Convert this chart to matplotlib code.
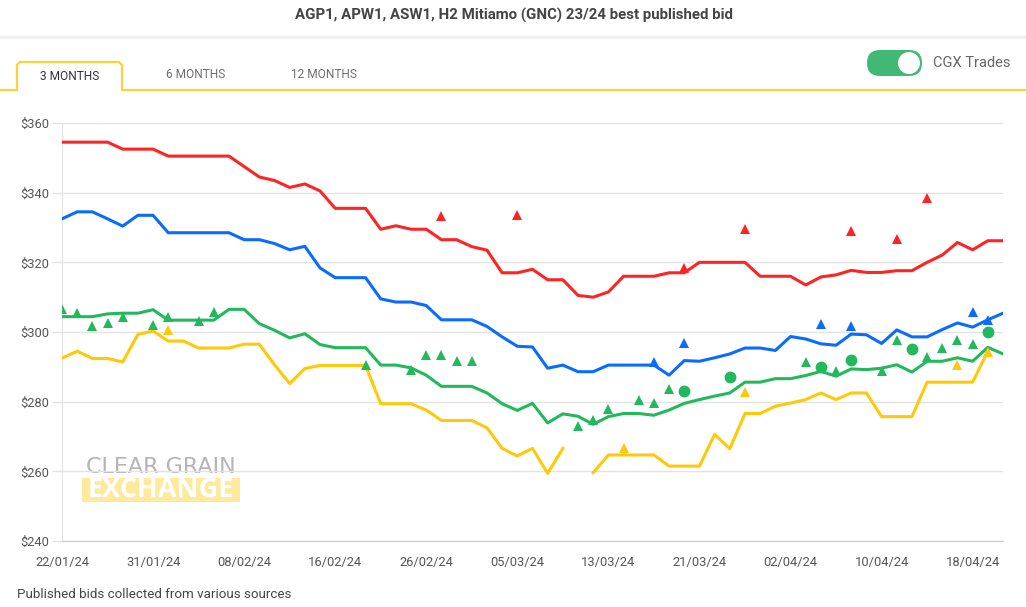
import numpy as np
import matplotlib
matplotlib.use("Agg")
import matplotlib.pyplot as plt
from matplotlib.patches import FancyBboxPatch, Circle, Rectangle

plt.rcParams['font.family'] = ['Roboto', 'DejaVu Sans']

nan = np.nan

# trading days shown on the chart (holidays 26/01, 29/03, 01/04 skipped)
dates = ["22/01/24", "23/01/24", "24/01/24", "25/01/24", "29/01/24", "30/01/24", "31/01/24",
         "01/02/24", "02/02/24", "05/02/24", "06/02/24", "07/02/24", "08/02/24", "09/02/24",
         "12/02/24", "13/02/24", "14/02/24", "15/02/24", "16/02/24", "19/02/24", "20/02/24",
         "21/02/24", "22/02/24", "23/02/24", "26/02/24", "27/02/24", "28/02/24", "29/02/24",
         "01/03/24", "04/03/24", "05/03/24", "06/03/24", "07/03/24", "08/03/24", "11/03/24",
         "12/03/24", "13/03/24", "14/03/24", "15/03/24", "18/03/24", "19/03/24", "20/03/24",
         "21/03/24", "22/03/24", "25/03/24", "26/03/24", "27/03/24", "28/03/24", "02/04/24",
         "03/04/24", "04/04/24", "05/04/24", "08/04/24", "09/04/24", "10/04/24", "11/04/24",
         "12/04/24", "15/04/24", "16/04/24", "17/04/24", "18/04/24", "19/04/24", "22/04/24"]

# best published bids ($/t)
h2 = [354.5, 354.5, 354.5, 354.5, 352.5, 352.5, 352.5, 350.5, 350.5, 350.5, 350.5, 350.5,
      347.5, 344.5, 343.5, 341.5, 342.5, 340.5, 335.5, 335.5, 335.5, 329.5, 330.5, 329.5,
      329.5, 326.5, 326.5, 324.5, 323.5, 317, 317, 318, 315, 315, 310.5, 310, 311.5,
      316, 316, 316, 317, 317, 320, 320, 320, 320, 316, 316, 316, 313.5, 315.8, 316.4,
      317.7, 317.1, 317.1, 317.6, 317.6, 320, 322.1, 325.7, 323.6, 326.2, 326.2]
apw1 = [332.5, 334.5, 334.5, 332.5, 330.4, 333.5, 333.5, 328.5, 328.5, 328.5, 328.5, 328.5,
        326.5, 326.5, 325.4, 323.6, 324.6, 318.4, 315.6, 315.6, 315.6, 309.5, 308.6, 308.6,
        307.6, 303.5, 303.5, 303.5, 301.6, 298.6, 295.9, 295.7, 289.6, 290.5, 288.6, 288.6,
        290.5, 290.5, 290.5, 290.5, 287.6, 291.8, 291.6, 292.6, 293.7, 295.4, 295.4, 294.7,
        298.7, 298, 296.6, 296.2, 299.4, 299.2, 296.7, 300.6, 298.6, 298.6, 300.7, 302.6,
        301.4, 303.5, 305.4]
asw1 = [304.4, 304.4, 304.4, 305.2, 305.4, 305.4, 306.4, 303.4, 303.4, 303.4, 303.4, 306.5,
        306.5, 302.4, 300.5, 298.3, 299.5, 296.4, 295.5, 295.5, 295.5, 290.5, 290.5, 289.7,
        287.6, 284.4, 284.4, 284.4, 282.5, 279.4, 277.5, 279.5, 273.9, 276.5, 275.8, 273.5,
        275.7, 276.6, 276.6, 276.1, 277.6, 279.5, 280.6, 281.6, 282.5, 285.6, 285.6, 286.6,
        286.6, 287.5, 288.7, 287.3, 289.4, 289.2, 289.6, 290.6, 288.5, 291.6, 291.6, 292.6,
        291.6, 295.6, 293.7]
agp1 = [292.5, 294.5, 292.4, 292.4, 291.4, 299.3, 300.3, 297.4, 297.4, 295.4, 295.4, 295.4,
        296.5, 296.5, 290.6, 285.2, 289.5, 290.4, 290.4, 290.4, 290.4, 279.4, 279.4, 279.4,
        277.6, 274.6, 274.6, 274.6, 272.5, 266.6, 264.4, 266.6, 259.4, 266.6, nan, 259.6,
        264.7, 264.7, 264.7, 264.7, 261.5, 261.5, 261.5, 270.6, 266.5, 276.6, 276.6, 278.7,
        279.6, 280.6, 282.5, 280.6, 282.5, 282.5, 275.7, 275.7, 275.7, 285.6, 285.6, 285.6,
        285.6, 294.5, nan]

# CGX trades
h2_trade_dates = ["27/02/24", "05/03/24", "20/03/24", "26/03/24", "08/04/24", "11/04/24", "15/04/24"]
h2_trade_vals = [333.4, 333.5, 318.4, 329.7, 329.0, 326.6, 338.6]
apw1_trade_dates = ["18/03/24", "20/03/24", "04/04/24", "08/04/24", "18/04/24", "19/04/24"]
apw1_trade_vals = [291.3, 296.8, 302.4, 301.6, 305.6, 303.5]
asw1_trade_dates = ["22/01/24", "23/01/24", "24/01/24", "25/01/24", "29/01/24", "31/01/24",
                    "01/02/24", "05/02/24", "06/02/24", "20/02/24", "23/02/24", "26/02/24",
                    "27/02/24", "28/02/24", "29/02/24", "11/03/24", "12/03/24", "13/03/24",
                    "15/03/24", "18/03/24", "19/03/24", "03/04/24", "05/04/24", "10/04/24",
                    "11/04/24", "15/04/24", "16/04/24", "17/04/24", "18/04/24"]
asw1_trade_vals = [306.5, 305.4, 301.7, 302.6, 304.3, 301.9, 304.3, 303.1, 305.7, 290.5,
                   289.2, 293.5, 293.5, 291.6, 291.6, 273.0, 274.7, 277.8, 280.6, 279.5,
                   283.5, 291.3, 288.7, 288.7, 297.6, 292.8, 295.4, 297.7, 296.5]
asw1_other_dates = ["20/03/24", "25/03/24", "04/04/24", "08/04/24", "12/04/24", "19/04/24"]
asw1_other_vals = [283.0, 287.0, 290.0, 292.0, 295.0, 300.0]
agp1_trade_dates = ["01/02/24", "14/03/24", "26/03/24", "17/04/24", "19/04/24"]
agp1_trade_vals = [300.5, 266.8, 282.8, 290.6, 294.3]

yticks = [240, 260, 280, 300, 320, 340, 360]

RED = '#fe2424'
BLUE = '#0a6cff'
GREEN = '#22b95c'
YELLOW = '#ffc808'
TAB_YELLOW = '#fcd23c'

W, H = 1026, 607
fig = plt.figure(figsize=(W / 100, H / 100), dpi=100)

# background layer in pixel coordinates for the page furniture
bg = fig.add_axes([0, 0, 1, 1], zorder=0)
bg.set_xlim(0, W)
bg.set_ylim(H, 0)
bg.axis('off')

bg.text(514, 15, "AGP1, APW1, ASW1, H2 Mitiamo (GNC) 23/24 best published bid",
        ha='center', va='center', fontsize=10.8, fontweight='bold', color='#444444')
bg.plot([0, W], [37, 37], color='#f1f1f1', lw=2.5)

# tabs
bg.plot([0, 17], [90, 90], color=TAB_YELLOW, lw=1.6, solid_capstyle='butt')
bg.plot([122, W], [90, 90], color=TAB_YELLOW, lw=1.6, solid_capstyle='butt')
bg.plot([17, 17, 20, 119, 122, 122], [90, 65, 62, 62, 65, 90], color=TAB_YELLOW, lw=1.6)
bg.text(70, 76, "3 MONTHS", ha='center', va='center', fontsize=8.6, color='#333333')
bg.text(196, 75, "6 MONTHS", ha='center', va='center', fontsize=8.6, color='#6f6f6f')
bg.text(324, 75, "12 MONTHS", ha='center', va='center', fontsize=8.6, color='#6f6f6f')

# toggle
bg.add_patch(FancyBboxPatch((867, 50), 55, 26, boxstyle="round,pad=0,rounding_size=13",
                            facecolor='#41b873', edgecolor='none'))
bg.add_patch(Circle((909, 63), 11, facecolor='white', edgecolor='none'))
bg.text(933, 63, "CGX Trades", ha='left', va='center', fontsize=10.5, color='#666666')

# watermark
bg.text(161, 467, "CLEAR GRAIN", ha='center', va='center', fontsize=16, color='#b5b5b5',
        family=['DejaVu Sans'])
bg.add_patch(Rectangle((82, 478), 158, 24, facecolor='#fee99c', edgecolor='none'))
bg.text(161, 490, "EXCHANGE", ha='center', va='center', fontsize=19.5, fontweight='bold',
        color='white', family=['Open Sans', 'DejaVu Sans'])

bg.text(17, 595, "Published bids collected from various sources", ha='left', va='center',
        fontsize=9.6, color='#444444')

# main chart
ax = fig.add_axes([62 / W, 1 - 541 / H, (1003 - 62) / W, (541 - 123) / H], zorder=1)
ax.set_facecolor('none')

x = np.arange(len(dates))
ax.plot(x, h2, color=RED, lw=2.2, solid_joinstyle='round', zorder=3)
ax.plot(x, apw1, color=BLUE, lw=2.2, solid_joinstyle='round', zorder=3)
ax.plot(x, asw1, color=GREEN, lw=2.2, solid_joinstyle='round', zorder=3)
ax.plot(x, agp1, color=YELLOW, lw=2.2, solid_joinstyle='round', zorder=3)


def pos(ds):
    return [dates.index(d) for d in ds]


ax.plot(pos(h2_trade_dates), h2_trade_vals, '^', color=RED, ms=7, mew=0, zorder=4)
ax.plot(pos(apw1_trade_dates), apw1_trade_vals, '^', color=BLUE, ms=7, mew=0, zorder=4)
ax.plot(pos(asw1_trade_dates), asw1_trade_vals, '^', color=GREEN, ms=7, mew=0, zorder=4)
ax.plot(pos(asw1_other_dates), asw1_other_vals, 'o', color=GREEN, ms=8.5, mew=0, zorder=4)
ax.plot(pos(agp1_trade_dates), agp1_trade_vals, '^', color=YELLOW, ms=7, mew=0, zorder=4)

ax.set_xlim(0, len(dates) - 1)
ax.set_ylim(240, 360)
ax.set_yticks(yticks)
ax.set_yticklabels([f"${v}" for v in yticks])
ax.set_xticks(x[::6])
ax.set_xticklabels(dates[::6])
ax.grid(axis='y', color='#e3e3e3', lw=1)
ax.set_axisbelow(True)

for s in ['top', 'right']:
    ax.spines[s].set_visible(False)
ax.spines['left'].set_color('#e3e3e3')
ax.spines['bottom'].set_color('#cccccc')
ax.tick_params(axis='y', length=7, width=1, color='#e3e3e3', pad=2, labelsize=9.3,
               labelcolor='#555555')
ax.tick_params(axis='x', length=0, pad=11, labelsize=9.3, labelcolor='#555555')

fig.savefig("out.png", dpi=100)
